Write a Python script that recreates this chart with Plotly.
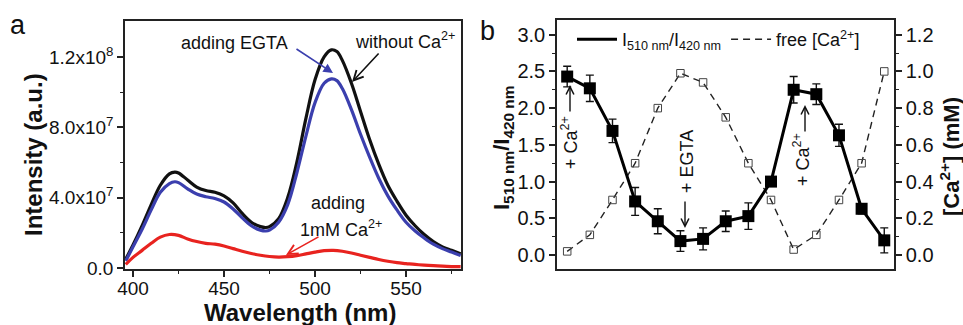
import plotly.graph_objects as go

# ---------------- Panel a data (wavelength nm, intensity a.u.) ----------------
wl_a = [396, 400, 405, 410, 415, 420, 423, 425, 430, 435, 440, 445, 450, 455, 460, 465,
        470, 473, 475, 480, 485, 490, 495, 500, 505, 509, 512, 515, 520, 525, 530, 535,
        540, 545, 550, 555, 560, 565, 570, 575, 580]
without_ca = [0.5, 1.3, 2.4, 3.6, 4.7, 5.35, 5.45, 5.4, 5.0, 4.6, 4.4, 4.3, 4.1, 3.7, 3.1, 2.6,
              2.35, 2.3, 2.35, 2.8, 4.0, 6.0, 8.5, 10.7, 12.0, 12.4, 12.3, 11.8, 10.5, 8.9, 7.3, 5.9,
              4.7, 3.8, 3.0, 2.4, 1.9, 1.5, 1.2, 1.0, 0.8]
adding_egta = [0.4, 1.2, 2.2, 3.3, 4.3, 4.8, 4.9, 4.85, 4.5, 4.2, 4.05, 3.95, 3.75, 3.35, 2.85, 2.4,
               2.15, 2.1, 2.15, 2.6, 3.6, 5.4, 7.5, 9.4, 10.5, 10.75, 10.65, 10.2, 9.0, 7.6, 6.3, 5.1,
               4.1, 3.3, 2.6, 2.1, 1.7, 1.35, 1.1, 0.9, 0.7]
wl_red = [396, 400, 405, 410, 415, 420, 425, 430, 435, 440, 445, 450, 455, 460, 465, 470,
          475, 480, 485, 490, 495, 500, 505, 510, 515, 520, 525, 530, 535, 540, 545, 550,
          555, 560, 565, 570, 575, 580]
adding_ca = [0.2, 0.6, 1.0, 1.4, 1.75, 1.9, 1.85, 1.65, 1.5, 1.4, 1.35, 1.25, 1.1, 0.95, 0.82, 0.72,
             0.65, 0.62, 0.64, 0.7, 0.8, 0.9, 0.98, 1.0, 0.95, 0.85, 0.72, 0.6, 0.48, 0.38, 0.3, 0.25,
             0.2, 0.16, 0.13, 0.1, 0.08, 0.07]
scale_a = 1e7

tickvals_a = [0, 4e7, 8e7, 1.2e8]
ticktext_a = ["0.0", "4.0x10<sup>7</sup>", "8.0x10<sup>7</sup>", "1.2x10<sup>8</sup>"]

# ---------------- Panel b data ----------------
step = list(range(1, 16))
ratio = [2.43, 2.27, 1.69, 0.73, 0.46, 0.19, 0.22, 0.46, 0.53, 1.0, 2.25, 2.19, 1.63, 0.63, 0.2]
ratio_err = [0.14, 0.18, 0.16, 0.19, 0.17, 0.14, 0.15, 0.14, 0.18, 0.06, 0.18, 0.14, 0.15, 0.07, 0.17]
free_ca = [0.02, 0.11, 0.3, 0.5, 0.8, 0.99, 0.94, 0.75, 0.5, 0.3, 0.03, 0.11, 0.3, 0.5, 1.0]

FONT = "Arial, Liberation Sans, sans-serif"
AX = "#222222"
DASH = "7px,5px"

fig = go.Figure()

# Panel a traces
fig.add_trace(go.Scatter(x=wl_a, y=[v * scale_a for v in without_ca], mode="lines",
                         line=dict(color="#111111", width=3.2, shape="spline"),
                         xaxis="x", yaxis="y", showlegend=False))
fig.add_trace(go.Scatter(x=wl_a, y=[v * scale_a for v in adding_egta], mode="lines",
                         line=dict(color="#3b3fae", width=3.2, shape="spline"),
                         xaxis="x", yaxis="y", showlegend=False))
fig.add_trace(go.Scatter(x=wl_red, y=[v * scale_a for v in adding_ca], mode="lines",
                         line=dict(color="#e8231f", width=3.2, shape="spline"),
                         xaxis="x", yaxis="y", showlegend=False))

# Panel b traces (free Ca on right axis y2, ratio on left axis y3 overlaying)
fig.add_trace(go.Scatter(x=step, y=free_ca, mode="lines+markers",
                         line=dict(color="#222222", width=1.4, dash=DASH),
                         marker=dict(symbol="square-open", size=7.5, color="#444444",
                                     line=dict(width=1)),
                         xaxis="x2", yaxis="y2", showlegend=False))
fig.add_trace(go.Scatter(x=step, y=ratio, mode="lines+markers",
                         line=dict(color="#000000", width=3),
                         marker=dict(symbol="square", size=12, color="#000000"),
                         error_y=dict(type="data", array=ratio_err, visible=True,
                                      color="#111111", thickness=1.4, width=4),
                         xaxis="x2", yaxis="y3", showlegend=False))

# legend entries (line samples only)
fig.add_trace(go.Scatter(x=[None], y=[None], mode="lines",
                         line=dict(color="#000000", width=3),
                         name="I<sub>510 nm</sub>/I<sub>420 nm</sub>",
                         xaxis="x2", yaxis="y3"))
fig.add_trace(go.Scatter(x=[None], y=[None], mode="lines",
                         line=dict(color="#222222", width=1.4, dash=DASH),
                         name="free [Ca<sup>2+</sup>]",
                         xaxis="x2", yaxis="y3"))

W, H = 963, 325


def px(x):
    return x / W


def py(y):
    return 1 - y / H


tickfont = dict(family=FONT, size=19, color="#111111")

common = dict(showline=True, linecolor=AX, linewidth=1.5, ticks="outside",
              ticklen=6, tickwidth=1.5, tickcolor=AX, showgrid=False, zeroline=False,
              tickfont=tickfont, automargin=False)

fig.update_layout(
    width=W, height=H,
    margin=dict(l=0, r=0, t=0, b=0, autoexpand=False),
    paper_bgcolor="white", plot_bgcolor="white",
    font=dict(family=FONT, color="#111111"),
    xaxis=dict(domain=[px(125), px(461)], range=[395.6, 580.2], anchor="y",
               tickvals=[400, 450, 500, 550], mirror=True, ticklabelstandoff=-5,
               minor=dict(ticks="outside", ticklen=3, tickwidth=1.2, tickcolor=AX,
                          tickvals=[425, 475, 525, 575]),
               **common),
    yaxis=dict(domain=[py(269), py(21)], range=[-0.6e6, 1.404e8], anchor="x",
               tickvals=tickvals_a, ticktext=ticktext_a, mirror=True,
               minor=dict(ticks="outside", ticklen=3, tickwidth=1.2, tickcolor=AX,
                          tickvals=[2e7, 6e7, 1e8]),
               **common),
    xaxis2=dict(domain=[px(557), px(894)], range=[0.55, 15.43], anchor="y2",
                showline=True, linecolor=AX, linewidth=1.5, mirror=True,
                ticks="", showticklabels=False, showgrid=False, zeroline=False),
    yaxis2=dict(domain=[py(269), py(20)], range=[-0.076, 1.28], anchor="x2", side="right",
                tickvals=[0, 0.2, 0.4, 0.6, 0.8, 1.0, 1.2],
                ticktext=["0.0", "0.2", "0.4", "0.6", "0.8", "1.0", "1.2"],
                minor=dict(ticks="outside", ticklen=3, tickwidth=1.2, tickcolor=AX,
                           tickvals=[0.1, 0.3, 0.5, 0.7, 0.9, 1.1]),
                **dict(common, tickfont=dict(family=FONT, size=20, color="#111111"))),
    yaxis3=dict(range=[-0.19, 3.2], anchor="x2", overlaying="y2", side="left",
                tickvals=[0, 0.5, 1.0, 1.5, 2.0, 2.5, 3.0],
                ticktext=["0.0", "0.5", "1.0", "1.5", "2.0", "2.5", "3.0"],
                minor=dict(ticks="outside", ticklen=3, tickwidth=1.2, tickcolor=AX,
                           tickvals=[0.25, 0.75, 1.25, 1.75, 2.25, 2.75]),
                **dict(common, tickfont=dict(family=FONT, size=20, color="#111111"))),
    legend=dict(orientation="h", x=px(572), y=py(21), xanchor="left", yanchor="top",
                bgcolor="rgba(0,0,0,0)", font=dict(family=FONT, size=18, color="#111111"),
                itemwidth=40),
)

ann = []
# panel labels
ann.append(dict(x=px(18), y=py(25), text="a", showarrow=False,
                font=dict(size=27, family=FONT, color="#111111")))
ann.append(dict(x=px(487), y=py(31), text="b", showarrow=False,
                font=dict(size=27, family=FONT, color="#111111")))
# axis titles
ann.append(dict(x=px(33), y=py(155), text="<b>Intensity (a.u.)</b>", textangle=-90,
                showarrow=False, font=dict(size=24, family=FONT, color="#111111")))
ann.append(dict(x=px(300), y=py(312), text="<b>Wavelength (nm)</b>",
                showarrow=False, font=dict(size=24, family=FONT, color="#111111")))
ann.append(dict(x=px(503), y=py(148), text="<b>I<sub>510 nm</sub>/I<sub>420 nm</sub></b>",
                textangle=-90, showarrow=False, font=dict(size=22, family=FONT, color="#111111")))
ann.append(dict(x=px(950), y=py(157), text="<b>[Ca<sup>2+</sup>] (mM)</b>",
                textangle=-90, showarrow=False, font=dict(size=22, family=FONT, color="#111111")))

afont = dict(size=18, family=FONT, color="#111111")
# panel a labels and arrows
ann.append(dict(x=px(234), y=py(43), text="adding EGTA", showarrow=False, font=afont))
ann.append(dict(x=px(333), y=py(73), ax=-38, ay=-25, text="", showarrow=True,
                arrowhead=2, arrowsize=1.2, arrowwidth=1.6, arrowcolor="#3b3fae"))
ann.append(dict(x=px(405), y=py(40), text="without Ca<sup>2+</sup>", showarrow=False, font=afont))
ann.append(dict(x=px(352), y=py(82), ax=28, ay=-30, text="", showarrow=True,
                arrowhead=5, arrowsize=1.2, arrowwidth=1.6, arrowcolor="#111111"))
ann.append(dict(x=px(338), y=py(203), text="adding", showarrow=False, font=afont))
ann.append(dict(x=px(341), y=py(228), text="1mM Ca<sup>2+</sup>", showarrow=False, font=afont))
ann.append(dict(x=px(286), y=py(255), ax=34, ay=-19, text="", showarrow=True,
                arrowhead=5, arrowsize=1.2, arrowwidth=1.6, arrowcolor="#e8231f"))

# panel b labels and arrows
ann.append(dict(x=px(570), y=py(143), text="+ Ca<sup>2+</sup>", textangle=-90,
                showarrow=False, font=afont))
ann.append(dict(x=px(570), y=py(85), ax=0, ay=28, text="", showarrow=True,
                arrowhead=5, arrowsize=1.1, arrowwidth=1.4, arrowcolor="#111111"))
ann.append(dict(x=px(687), y=py(162), text="+ EGTA", textangle=-90,
                showarrow=False, font=afont))
ann.append(dict(x=px(685), y=py(228), ax=0, ay=-28, text="", showarrow=True,
                arrowhead=5, arrowsize=1.1, arrowwidth=1.4, arrowcolor="#111111"))
ann.append(dict(x=px(801), y=py(160), text="+ Ca<sup>2+</sup>", textangle=-90,
                showarrow=False, font=afont))
ann.append(dict(x=px(805), y=py(105), ax=0, ay=28, text="", showarrow=True,
                arrowhead=5, arrowsize=1.1, arrowwidth=1.4, arrowcolor="#111111"))

for a in ann:
    a.setdefault("xref", "paper")
    a.setdefault("yref", "paper")
    if not a.get("showarrow"):
        a.setdefault("xanchor", "center")
        a.setdefault("yanchor", "middle")
fig.update_layout(annotations=ann)

fig.write_html("out.html", config={"displayModeBar": False},
               post_script="document.body.style.margin='0';document.body.style.overflow='hidden';")
